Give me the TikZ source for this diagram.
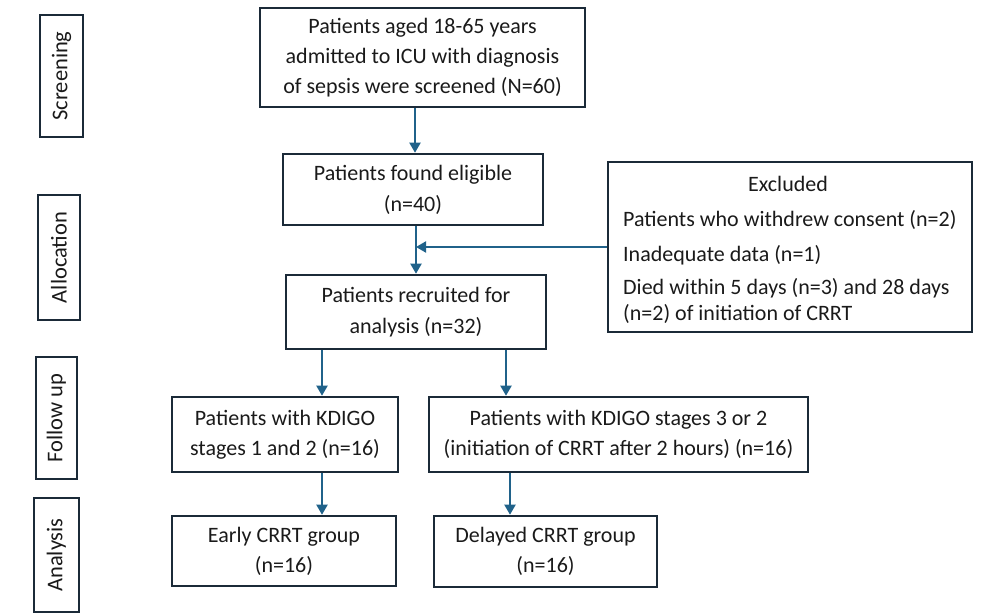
\documentclass[tikz,border=0pt]{standalone}
\usepackage{fontspec}
\setmainfont{Carlito}
\usetikzlibrary{arrows.meta}
\definecolor{boxc}{HTML}{1B2A38}
\definecolor{arrc}{HTML}{20628A}
\definecolor{txtc}{HTML}{1A1A1A}
\tikzset{
  bx/.style={draw=boxc, line width=2.6pt, inner sep=0pt, align=center,
    text=txtc, font=\fontsize{22}{30}\selectfont},
  side/.style={bx, rotate=90, font=\fontsize{22.5}{30}\selectfont},
  arr/.style={draw=arrc, line width=2pt, -{Triangle[width=11pt,length=10pt]}},
  tx/.style={inner sep=0pt, text=txtc, font=\fontsize{22}{30}\selectfont, anchor=west},
}
\begin{document}
\begin{tikzpicture}[x=1pt,y=-1pt]
\useasboundingbox (0,0) rectangle (986,614);
% side labels (rotated: min width = vertical extent)
\node[side, minimum width=122pt, minimum height=43pt] (s1) at (61.5,76) {Screening};
\node[side, minimum width=125pt, minimum height=42pt] (s2) at (59,257.5) {Allocation};
\node[side, minimum width=122pt, minimum height=41pt] (s3) at (56.5,418) {Follow up};
\node[side, minimum width=114pt, minimum height=45pt] (s4) at (56.5,555) {Analysis};
% main boxes
\node[bx, minimum width=325pt, minimum height=99pt] (b1) at (422.5,57.5)
  {Patients aged 18-65 years\\admitted to ICU with diagnosis\\of sepsis were screened (N=60)};
\node[bx, minimum width=260pt, minimum height=71pt] (b2) at (413,189.5)
  {Patients found eligible\\[1pt](n=40)};
\node[bx, minimum width=260pt, minimum height=74pt] (b3) at (416,312)
  {Patients recruited for\\[1pt]analysis (n=32)};
\node[bx, minimum width=364pt, minimum height=170pt] (ex) at (790,247) {};
\node[inner sep=0pt, text=txtc, font=\fontsize{22}{30}\selectfont] (ex0) at (788,184) {Excluded};
\node[tx] (ex1) at (623,220) {Patients who withdrew consent (n=2)};
\node[tx] (ex2) at (623,255) {Inadequate data (n=1)};
\node[tx] (ex3) at (623,288) {Died within 5 days (n=3) and 28 days};
\node[tx] (ex4) at (623,314) {(n=2) of initiation of CRRT};
\node[bx, minimum width=226pt, minimum height=75pt] (b4) at (285,434.5)
  {Patients with KDIGO\\stages 1 and 2 (n=16)};
\node[bx, minimum width=379pt, minimum height=75pt] (b5) at (618.5,434.5)
  {Patients with KDIGO stages 3 or 2\\(initiation of CRRT after 2 hours) (n=16)};
\node[bx, minimum width=224pt, minimum height=70pt] (b6) at (284,551)
  {Early CRRT group\\(n=16)};
\node[bx, minimum width=223pt, minimum height=71pt] (b7) at (545.5,551.5)
  {Delayed CRRT group\\(n=16)};
% connector x positions
\coordinate (xd) at (415,0);
\coordinate (xa) at (322,0);
\coordinate (xb) at (506,0);
\coordinate (xc) at (510,0);
% connectors
\draw[arr] (b1.south -| xd) -- (b2.north -| xd);
\draw[arr] (b2.south -| b3.north) -- (b3.north);
\draw[arr] (ex.west) -- (ex.west -| b3.north);
\draw[arr] (b3.south -| xa) -- (b4.north -| xa);
\draw[arr] (b3.south -| xb) -- (b5.north -| xb);
\draw[arr] (b4.south -| xa) -- (b6.north -| xa);
\draw[arr] (b5.south -| xc) -- (b7.north -| xc);
\end{tikzpicture}
\end{document}
